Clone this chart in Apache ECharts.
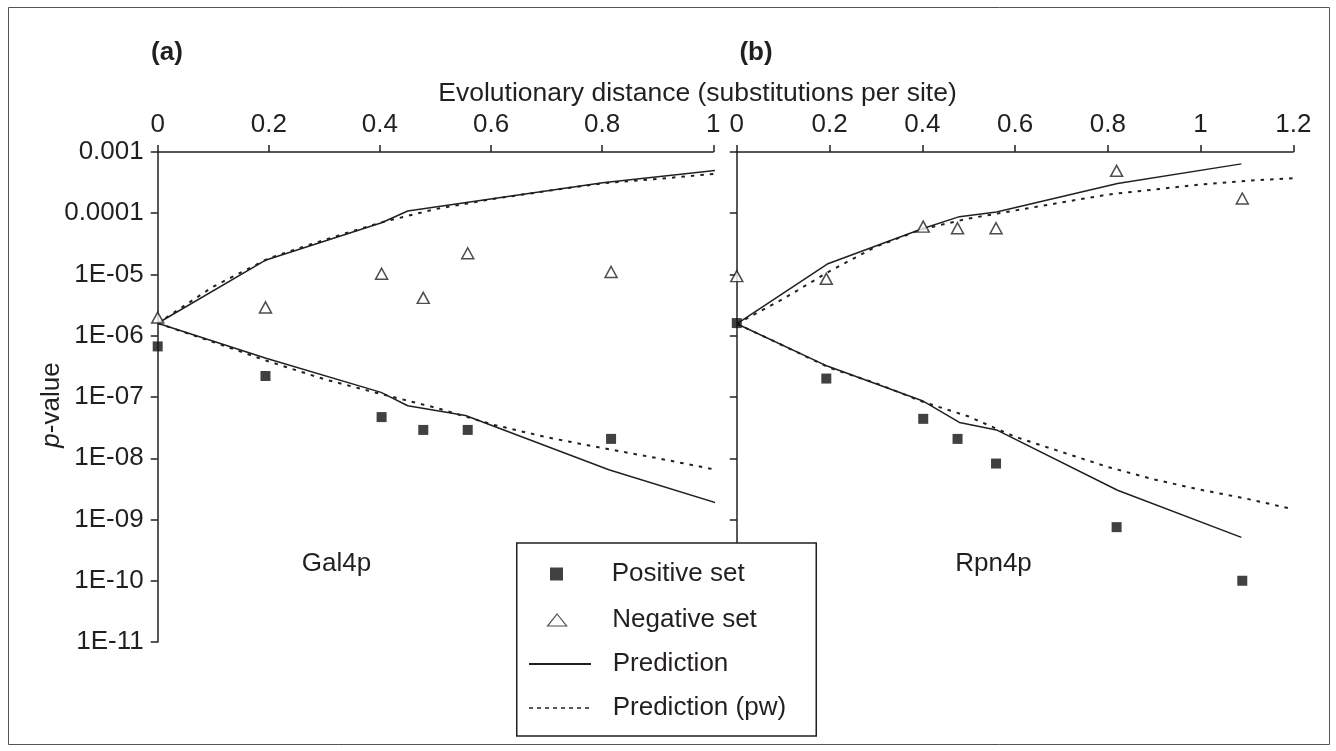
<!DOCTYPE html>
<html><head><meta charset="utf-8">
<script src="https://cdn.jsdelivr.net/npm/echarts@6/dist/echarts.min.js"></script>
<style>html,body{margin:0;padding:0;background:#fff}#c{width:1336px;height:751px}</style>
</head><body><div id="c"></div>
<script>
// ---- tick labels ----
const xTicksA = ['0','0.2','0.4','0.6','0.8','1'];
const xTicksB = ['0','0.2','0.4','0.6','0.8','1','1.2'];
const yTicks = ['0.001','0.0001','1E-05','1E-06','1E-07','1E-08','1E-09','1E-10','1E-11'];
const legendNames = ['Positive set','Negative set','Prediction','Prediction (pw)'];

// ---- (a) Gal4p ----
const galPointX   = [0, 0.194, 0.403, 0.478, 0.558, 0.816];
const galPositive = [6.7e-7, 2.2e-7, 4.7e-8, 2.9e-8, 2.9e-8, 2.07e-8];
const galNegative = [1.98e-6, 2.9e-6, 1.03e-5, 4.15e-6, 2.22e-5, 1.1e-5];
const galPredUpX  = [0, 0.195, 0.403, 0.45, 0.801, 1.012];
const galPredUp   = [1.6e-6, 1.73e-5, 7.0e-5, 1.09e-4, 3.16e-4, 5.08e-4];
const galPredLowX = [0, 0.195, 0.402, 0.45, 0.554, 0.812, 1.012];
const galPredLow  = [1.6e-6, 4.3e-7, 1.19e-7, 7.2e-8, 5.0e-8, 6.5e-9, 1.79e-9];
const galPwX      = [0, 0.1, 0.2, 0.3, 0.4, 0.5, 0.6, 0.7, 0.8, 0.9, 1.012];
const galPwUp     = [1.6e-6, 6.35e-6, 1.84e-5, 3.67e-5, 7.0e-5, 1.17e-4, 1.69e-4, 2.31e-4, 3.08e-4, 3.63e-4, 4.49e-4];
const galPwLow    = [1.6e-6, 7.9e-7, 3.8e-7, 1.95e-7, 1.13e-7, 6.7e-8, 3.6e-8, 2.2e-8, 1.47e-8, 1.0e-8, 6.3e-9];

// ---- (b) Rpn4p ----
const rpnPointX   = [0, 0.193, 0.402, 0.476, 0.559, 0.819, 1.09];
const rpnPositive = [1.61e-6, 2.0e-7, 4.4e-8, 2.07e-8, 8.2e-9, 7.5e-10, 1.0e-10];
const rpnNegative = [9.4e-6, 8.5e-6, 6.05e-5, 5.7e-5, 5.7e-5, 4.93e-4, 1.74e-4];
const rpnPredX    = [0, 0.195, 0.40, 0.48, 0.56, 0.821, 1.088];
const rpnPredUp   = [1.56e-6, 1.48e-5, 5.6e-5, 8.8e-5, 1.05e-4, 3.06e-4, 6.4e-4];
const rpnPredLow  = [1.57e-6, 3.2e-7, 8.7e-8, 3.85e-8, 2.9e-8, 3.0e-9, 5.1e-10];
const rpnPwUpX    = [0, 0.1, 0.2, 0.3, 0.4, 0.5, 0.6, 0.7, 0.8, 0.9, 1.0, 1.1, 1.211];
const rpnPwUp     = [1.56e-6, 4.0e-6, 1.13e-5, 2.85e-5, 5.5e-5, 8.2e-5, 1.11e-4, 1.5e-4, 2.02e-4, 2.44e-4, 2.95e-4, 3.39e-4, 3.78e-4];
const rpnPwLowX   = [0, 0.1, 0.2, 0.3, 0.4, 0.5, 0.6, 0.7, 0.8, 0.9, 1.0, 1.1, 1.19];
const rpnPwLow    = [1.57e-6, 6.9e-7, 3.0e-7, 1.68e-7, 8.4e-8, 4.8e-8, 2.24e-8, 1.27e-8, 7.2e-9, 4.5e-9, 3.06e-9, 2.18e-9, 1.53e-9];

const INK = '#231f20';
const FONT = '"Liberation Sans", Arial, Helvetica, sans-serif';
const FS = 26;

function pts(xs, ys) { return xs.map((x, i) => [x, ys[i]]); }
function yLabel(v) {
  const e = Math.round(Math.log10(v));
  return yTicks[-3 - e] || '';
}
function xLabelFrom(arr) { return v => arr[Math.round(v / 0.2)] || ''; }

function posSeries(i, xs, ys) {
  return { name: legendNames[0], type: 'scatter', xAxisIndex: i, yAxisIndex: i, data: pts(xs, ys),
    symbol: 'rect', symbolSize: 10, itemStyle: { color: '#111' }, z: 5, silent: true };
}
function negSeries(i, xs, ys) {
  return { name: legendNames[1], type: 'scatter', xAxisIndex: i, yAxisIndex: i, data: pts(xs, ys),
    symbol: 'triangle', symbolSize: [12, 11], itemStyle: { color: '#fff', borderColor: INK, borderWidth: 1.5 }, z: 5, silent: true };
}
function lineSeries(i, xs, ys, dashed) {
  return { name: dashed ? legendNames[3] : legendNames[2], type: 'line', xAxisIndex: i, yAxisIndex: i, data: pts(xs, ys),
    symbol: 'none', clip: false, silent: true, z: 3,
    itemStyle: { color: INK },
    lineStyle: { color: INK, width: dashed ? 2 : 1.5, type: dashed ? [3.5, 6] : 'solid' } };
}

const axisLineStyle = { show: true, lineStyle: { color: INK, width: 1.5 } };
const labelStyle = { color: INK, fontSize: FS, fontFamily: FONT };

function xAxisDef(i, max, ticks) {
  return { type: 'value', gridIndex: i, position: 'top', min: 0, max: max, interval: 0.2,
    axisLine: axisLineStyle, axisTick: { show: true, length: 7, lineStyle: { color: INK, width: 1.5 } },
    axisLabel: Object.assign({ margin: 14, formatter: xLabelFrom(ticks) }, labelStyle),
    splitLine: { show: false } };
}
function yAxisDef(i, showLabels) {
  return { type: 'log', gridIndex: i, logBase: 10, min: 1e-11, max: 1e-3, splitNumber: 8,
    axisLine: Object.assign({ onZero: false }, axisLineStyle),
    axisTick: { show: true, length: 7, lineStyle: { color: INK, width: 1.5 } },
    axisLabel: Object.assign({ show: showLabels, margin: 14, formatter: yLabel }, labelStyle),
    splitLine: { show: false } };
}

const legendText = (padLeft) => ({ color: INK, fontSize: FS, fontFamily: FONT, lineHeight: 30, padding: [0, 0, 0, padLeft] });
const noSymbol = { color: 'rgba(0,0,0,0)', borderWidth: 0, opacity: 0 };

const option = {
  animation: false,
  backgroundColor: '#fff',
  grid: [
    { left: 157.7, top: 152, width: 555.6, height: 490 },
    { left: 736.8, top: 152, width: 556.5, height: 490 }
  ],
  xAxis: [xAxisDef(0, 1, xTicksA), xAxisDef(1, 1.2, xTicksB)],
  yAxis: [yAxisDef(0, true), yAxisDef(1, false)],
  legend: [
    { data: [{ name: legendNames[0], icon: 'rect', itemStyle: { color: '#111' } }],
      left: 550, top: 559, padding: 0, itemWidth: 13, itemHeight: 13, selectedMode: false, z: 20,
      textStyle: legendText(43.7) },
    { data: [{ name: legendNames[1], icon: 'triangle', itemStyle: { color: '#fff', borderColor: INK, borderWidth: 1.2 } }],
      left: 547, top: 605, padding: 0, itemWidth: 19, itemHeight: 12, selectedMode: false, z: 20,
      textStyle: legendText(40.7) },
    { data: [{ name: legendNames[2], itemStyle: noSymbol },
             { name: legendNames[3], itemStyle: noSymbol, lineStyle: { type: [4, 4], width: 1.3 } }],
      orient: 'vertical', left: 528, top: 649, padding: 0, itemWidth: 62, itemHeight: 14, itemGap: 14,
      selectedMode: false, z: 20, textStyle: legendText(16.7) }
  ],
  graphic: [
    { type: 'rect', silent: true, z: 1, shape: { x: 8.5, y: 7.5, width: 1321, height: 737 },
      style: { fill: 'none', stroke: '#555', lineWidth: 1 } },
    { type: 'rect', silent: true, z: 10, shape: { x: 516.75, y: 543, width: 299.5, height: 193 },
      style: { fill: '#fff', stroke: INK, lineWidth: 1.5 } },
    { type: 'text', silent: true, z: 10, x: 167, y: 53,
      style: { text: '(a)', fill: INK, fontSize: FS, fontWeight: 'bold', fontFamily: FONT, align: 'center', verticalAlign: 'middle', textAlign: 'center', textVerticalAlign: 'middle' } },
    { type: 'text', silent: true, z: 10, x: 756, y: 53,
      style: { text: '(b)', fill: INK, fontSize: FS, fontWeight: 'bold', fontFamily: FONT, align: 'center', verticalAlign: 'middle', textAlign: 'center', textVerticalAlign: 'middle' } },
    { type: 'text', silent: true, z: 10, x: 697.5, y: 94,
      style: { text: 'Evolutionary distance (substitutions per site)', fill: INK, fontSize: 26.5, fontFamily: FONT, align: 'center', verticalAlign: 'middle', textAlign: 'center', textVerticalAlign: 'middle' } },
    { type: 'text', silent: true, z: 10, x: 336.5, y: 564,
      style: { text: 'Gal4p', fill: INK, fontSize: FS, fontFamily: FONT, align: 'center', verticalAlign: 'middle', textAlign: 'center', textVerticalAlign: 'middle' } },
    { type: 'text', silent: true, z: 10, x: 993.5, y: 564,
      style: { text: 'Rpn4p', fill: INK, fontSize: FS, fontFamily: FONT, align: 'center', verticalAlign: 'middle', textAlign: 'center', textVerticalAlign: 'middle' } },
    { type: 'text', silent: true, z: 10, x: 52, y: 405, rotation: Math.PI / 2,
      style: { text: '{i|p}-value', fill: INK, fontSize: FS, fontFamily: FONT, align: 'center', verticalAlign: 'middle', textAlign: 'center', textVerticalAlign: 'middle',
        rich: { i: { fontStyle: 'italic', fontSize: FS, fontFamily: FONT, fill: INK, color: INK } } } }
  ],
  series: [
    lineSeries(0, galPredUpX, galPredUp, false),
    lineSeries(0, galPredLowX, galPredLow, false),
    lineSeries(0, galPwX, galPwUp, true),
    lineSeries(0, galPwX, galPwLow, true),
    posSeries(0, galPointX, galPositive),
    negSeries(0, galPointX, galNegative),
    lineSeries(1, rpnPredX, rpnPredUp, false),
    lineSeries(1, rpnPredX, rpnPredLow, false),
    lineSeries(1, rpnPwUpX, rpnPwUp, true),
    lineSeries(1, rpnPwLowX, rpnPwLow, true),
    posSeries(1, rpnPointX, rpnPositive),
    negSeries(1, rpnPointX, rpnNegative)
  ]
};

const chart = echarts.init(document.getElementById('c'), null, { renderer: 'canvas' });
chart.setOption(option);
</script>
</body></html>
